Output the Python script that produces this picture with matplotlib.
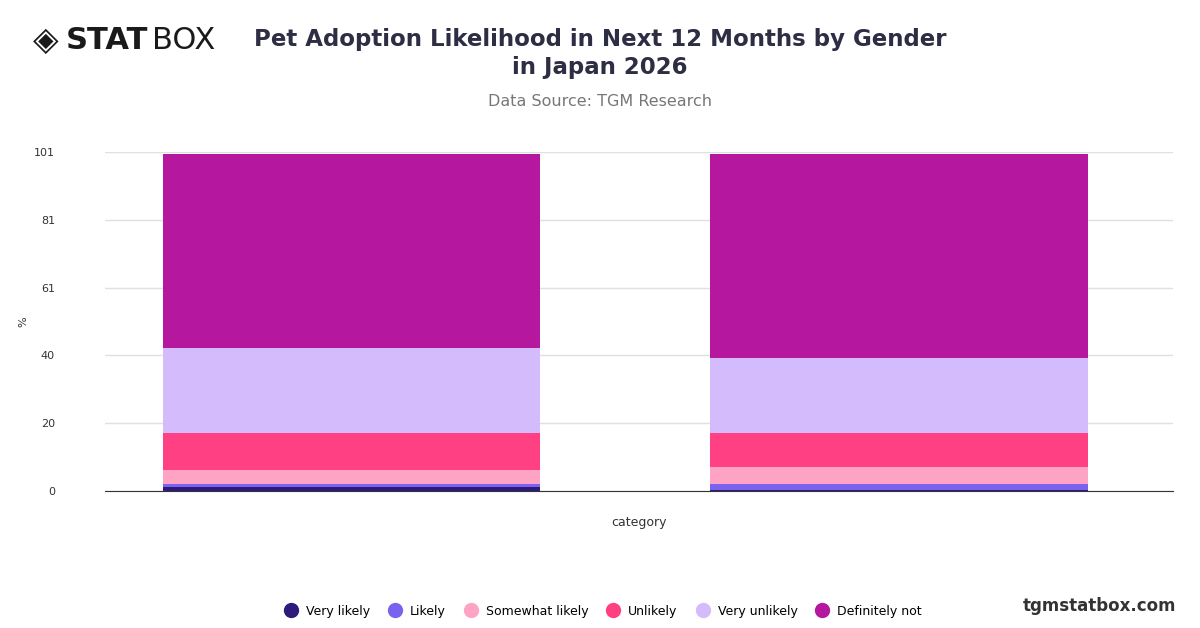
import numpy as np
import matplotlib
matplotlib.use("Agg")
import matplotlib.pyplot as plt
from matplotlib.lines import Line2D

genders = ["Male", "Female"]
series = ["Very likely", "Likely", "Somewhat likely", "Unlikely", "Very unlikely", "Definitely not"]
values = {
    "Very likely": [1.2, 0.3],
    "Likely": [0.8, 1.8],
    "Somewhat likely": [4.3, 5.1],
    "Unlikely": [11.0, 10.1],
    "Very unlikely": [25.3, 22.3],
    "Definitely not": [57.8, 60.8],
}
colors = ["#2e1a7a", "#7b61f0", "#ffa3c4", "#ff4082", "#d4bcfc", "#b5179e"]
ytick_labels = ["0", "20", "40", "61", "81", "101"]

fig = plt.figure(figsize=(12, 6.28), dpi=100)
ax = fig.add_axes([105 / 1200, 1 - 491 / 628, 1068 / 1200, 339 / 628])

x = np.arange(len(genders))
bottom = np.zeros(len(genders))
for name, col in zip(series, colors):
    v = np.array(values[name])
    ax.bar(x, v, bottom=bottom, width=0.69, color=col, zorder=3)
    bottom += v

ax.set_xlim(-0.45, 1.5)
ax.set_ylim(0, 101)
ax.set_yticks(np.linspace(0, 101, 6))
ax.set_yticklabels(ytick_labels)
ax.set_xticks([])
ax.grid(axis="y", color="#e0e0e0", lw=1, zorder=0)
for s in ["top", "right", "left"]:
    ax.spines[s].set_visible(False)
ax.spines["bottom"].set_color("#333333")
ax.tick_params(axis="y", length=0, labelsize=8, colors="#333333", pad=36)
ax.set_ylabel("%", fontsize=8, color="#333333", labelpad=4)
ax.set_xlabel("category", fontsize=9, color="#333333", labelpad=18)

fig.text(0.5, 0.915, "Pet Adoption Likelihood in Next 12 Months by Gender\nin Japan 2026",
         ha="center", va="center", fontsize=16.5, fontweight="bold", color="#2d2d44", linespacing=1.3)
fig.text(0.5, 0.838, "Data Source: TGM Research", ha="center", va="center", fontsize=11.5, color="#777777")
fig.text(0.055, 0.935, "STAT", ha="left", va="center", fontsize=22, fontweight="heavy", color="#1a1a1a")
fig.text(0.127, 0.935, "BOX", ha="left", va="center", fontsize=22, color="#1a1a1a")
fig.text(0.038, 0.935, "◈", ha="center", va="center", fontsize=24, color="#1a1a1a")
fig.text(0.98, 0.035, "tgmstatbox.com", ha="right", va="center", fontsize=12, fontweight="bold", color="#333333")

handles = [Line2D([], [], marker="o", ls="", markersize=10, color=c) for c in colors]
fig.legend(handles, series, loc="center", bbox_to_anchor=(0.5, 0.027), ncol=6, frameon=False,
           fontsize=9, handletextpad=0.2, columnspacing=1.0)

fig.savefig("out.png", dpi=100)
